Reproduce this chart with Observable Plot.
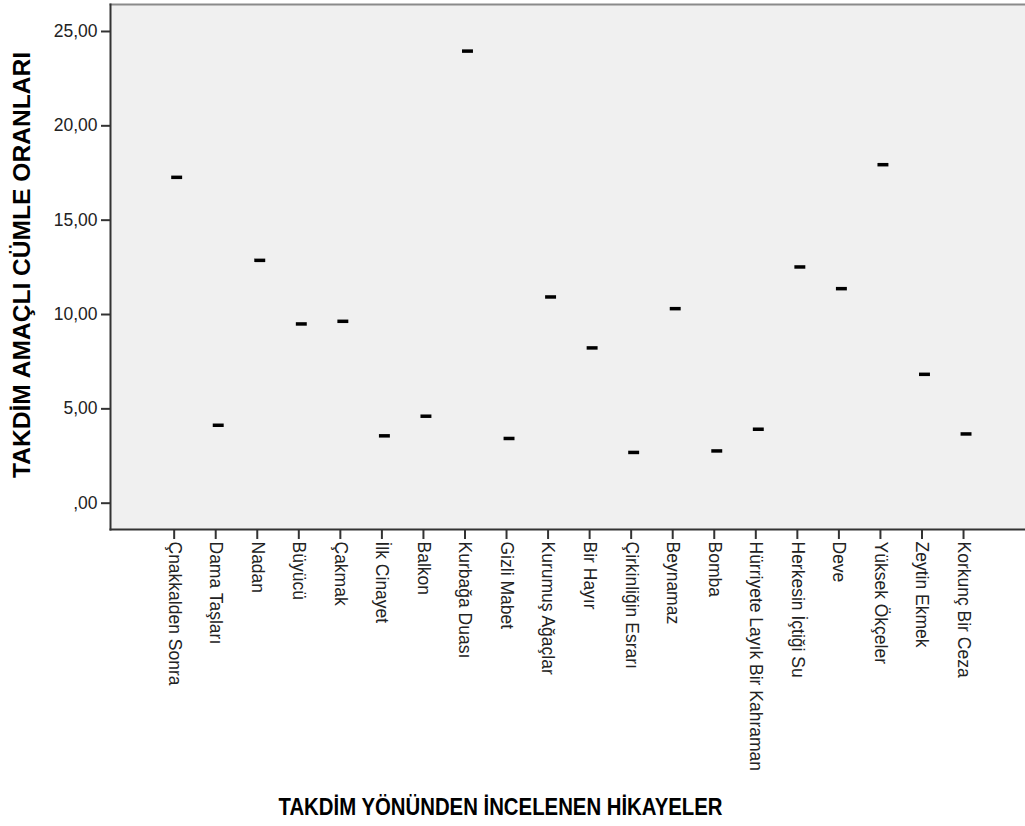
<!DOCTYPE html>
<html>
<head>
<meta charset="utf-8">
<script src="https://cdn.jsdelivr.net/npm/d3@7"></script>
<script src="https://cdn.jsdelivr.net/npm/@observablehq/plot@0.6"></script>
<style>
  html, body { margin: 0; padding: 0; background: #fff; }
</style>
</head>
<body>
<div id="chart"></div>
<script>
const stories = ["Çnakkalden Sonra","Dama Taşları","Nadan","Büyücü","Çakmak","İlk Cinayet","Balkon","Kurbağa Duası","Gizli Mabet","Kurumuş Ağaçlar","Bir Hayır","Çirkinliğin Esrarı","Beynamaz","Bomba","Hürriyete Layık Bir Kahraman","Herkesin İçtiği Su","Deve","Yüksek Ökçeler","Zeytin Ekmek","Korkunç Bir Ceza"];
const ratios = [17.27, 4.13, 12.87, 9.50, 9.64, 3.57, 4.61, 23.96, 3.43, 10.93, 8.23, 2.69, 10.31, 2.77, 3.92, 12.52, 11.37, 17.94, 6.83, 3.67];
const yTicks = [0, 5, 10, 15, 20, 25];
const yTickLabels = [",00", "5,00", "10,00", "15,00", "20,00", "25,00"];
const yDomain = [-1.394, 26.43];
const xTitle = "TAKDİM YÖNÜNDEN İNCELENEN HİKAYELER";
const yTitle = "TAKDİM AMAÇLI CÜMLE ORANLARI";

const data = stories.map((s, i) => ({story: s, value: ratios[i]}));

const chart = Plot.plot({
  width: 1025,
  height: 826,
  marginLeft: 110,
  marginRight: 0,
  marginTop: 4,
  marginBottom: 297,
  style: {fontFamily: "'Liberation Sans', Arial, sans-serif", background: "#fff", color: "#222"},
  x: {type: "band", domain: stories, padding: 0, round: false, insetLeft: 45.9, insetRight: 38.2},
  y: {domain: yDomain},
  marks: [
    Plot.frame({fill: "#f0f0f0", stroke: "none"}),
    Plot.frame({anchor: "top", stroke: "#8a8a8a", strokeWidth: 2}),
    Plot.frame({anchor: "left", stroke: "#333", strokeWidth: 2}),
    Plot.frame({anchor: "bottom", stroke: "#333", strokeWidth: 2}),
    Plot.axisY({ticks: yTicks, tickFormat: d => yTickLabels[yTicks.indexOf(d)], tickSize: 9, tickPadding: 4, fontSize: 17.5, label: null, stroke: "#333", strokeWidth: 2}),
    Plot.axisX({tickRotate: 90, tickSize: 10, tickPadding: 2, fontSize: 17.5, label: null, stroke: "#333", strokeWidth: 2, dx: -3}),
    Plot.tickY(data, {x: "story", y: "value", insetLeft: 15.3, insetRight: 15.3, stroke: "#000", strokeWidth: 3.5}),
    Plot.text([yTitle], {frameAnchor: "left", textAnchor: "middle", lineAnchor: "middle", rotate: -90, dx: -88, dy: -2, fontSize: 24, fontWeight: "bold", fill: "#000"}),
    Plot.text([xTitle], {frameAnchor: "bottom", textAnchor: "middle", lineAnchor: "middle", dx: -67.5, dy: 278, fontSize: 23, fontWeight: "bold", fill: "#000"})
  ]
});
// the reference's axis titles are drawn condensed; fit them to their measured lengths
d3.select(chart).selectAll("text").each(function() {
  const t = this.textContent;
  if (t === xTitle) d3.select(this).attr("textLength", 444).attr("lengthAdjust", "spacingAndGlyphs");
  if (t === yTitle) d3.select(this).attr("textLength", 426).attr("lengthAdjust", "spacingAndGlyphs");
});
document.getElementById("chart").appendChild(chart);
</script>
</body>
</html>
